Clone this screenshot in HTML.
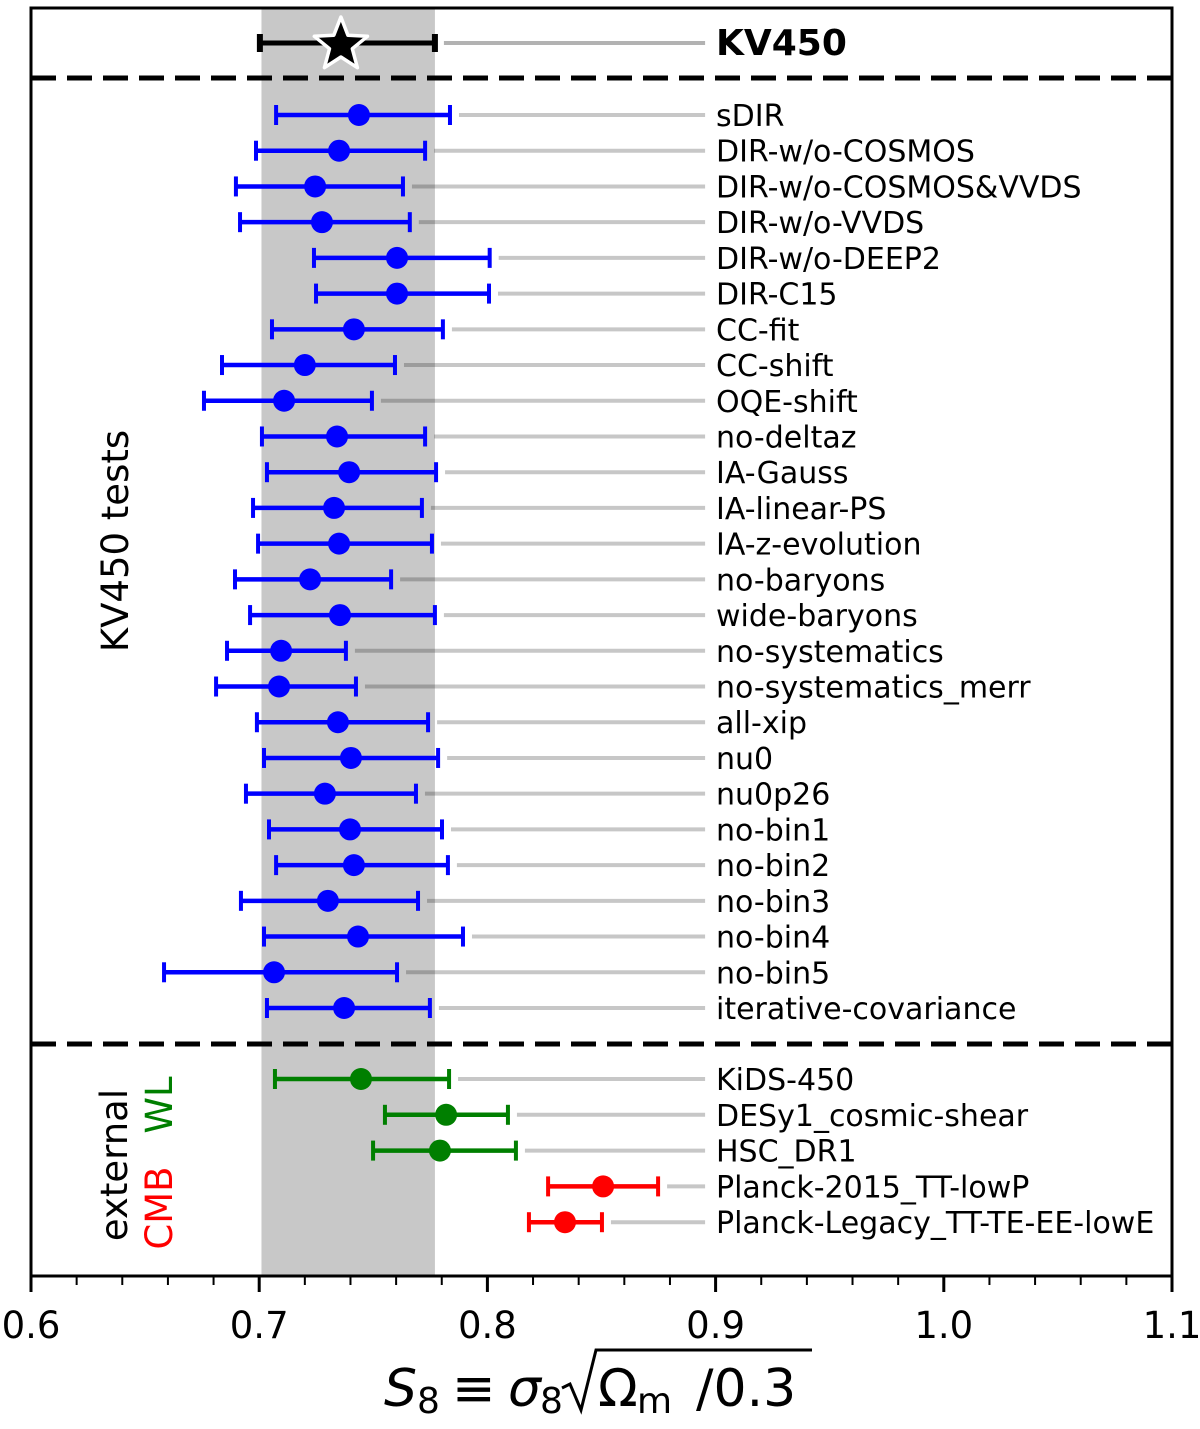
<!DOCTYPE html>
<html><head><meta charset="utf-8"><style>
html,body{margin:0;padding:0;background:#fff;}
svg{display:block;font-family:"DejaVu Sans","Liberation Sans",sans-serif;}
</style></head><body>
<svg id="chart" width="1200" height="1429" viewBox="0 0 1200 1429" xmlns="http://www.w3.org/2000/svg">
<rect x="0" y="0" width="1200" height="1429" fill="#fff"/>
<g id="plot"></g>
</svg>
<script>
const labels = ["KV450","sDIR","DIR-w/o-COSMOS","DIR-w/o-COSMOS&VVDS","DIR-w/o-VVDS","DIR-w/o-DEEP2","DIR-C15","CC-fit","CC-shift","OQE-shift","no-deltaz","IA-Gauss","IA-linear-PS","IA-z-evolution","no-baryons","wide-baryons","no-systematics","no-systematics_merr","all-xip","nu0","nu0p26","no-bin1","no-bin2","no-bin3","no-bin4","no-bin5","iterative-covariance","KiDS-450","DESy1_cosmic-shear","HSC_DR1","Planck-2015_TT-lowP","Planck-Legacy_TT-TE-EE-lowE"];
const centers = [0.7358,0.7437,0.7350,0.7245,0.7275,0.7604,0.7604,0.7415,0.7200,0.7109,0.7341,0.7394,0.7328,0.7350,0.7223,0.7354,0.7096,0.7087,0.7345,0.7402,0.7288,0.7398,0.7415,0.7301,0.7433,0.7065,0.7372,0.7446,0.7819,0.7792,0.8507,0.8340];
const lows = [0.7003,0.7074,0.6986,0.6898,0.6916,0.7240,0.7249,0.7056,0.6837,0.6758,0.7012,0.7034,0.6973,0.6995,0.6894,0.6960,0.6859,0.6811,0.6990,0.7021,0.6942,0.7043,0.7074,0.6920,0.7021,0.6583,0.7034,0.7069,0.7551,0.7499,0.8266,0.8182];
const highs = [0.7770,0.7836,0.7727,0.7630,0.7660,0.8010,0.8007,0.7805,0.7595,0.7494,0.7727,0.7775,0.7713,0.7757,0.7578,0.7770,0.7380,0.7424,0.7740,0.7784,0.7687,0.7801,0.7827,0.7696,0.7893,0.7604,0.7748,0.7832,0.8090,0.8125,0.8748,0.8502];
const groups = ["ref","test","test","test","test","test","test","test","test","test","test","test","test","test","test","test","test","test","test","test","test","test","test","test","test","test","test","wl","wl","wl","cmb","cmb"];
const majorTicks = [0.6,0.7,0.8,0.9,1.0,1.1];
const majorLabels = ["0.6","0.7","0.8","0.9","1.0","1.1"];
const bandRange = [0.701,0.777];

const NS="http://www.w3.org/2000/svg";
const g=document.getElementById('plot');
const X0=31,X1=1172,Y0=8,Y1=1276;
function xs(v){return X0+(v-0.6)/(1.1-0.6)*(X1-X0);}
function ys(i){
  if(i===0) return 43;
  if(i<=26) return 115+(i-1)*35.72;
  return 1079+(i-27)*35.8;
}
function mk(tag,attrs,parent){const e=document.createElementNS(NS,tag);for(const k in attrs)e.setAttribute(k,attrs[k]);(parent||g).appendChild(e);return e;}
const colors={ref:"#000",test:"#0000ff",wl:"#007f00",cmb:"#ff0000"};

let band=mk('rect',{x:xs(bandRange[0]),y:Y0,width:xs(bandRange[1])-xs(bandRange[0]),height:Y1-Y0,fill:"#c8c8c8"});



let d1=mk('line',{x1:X0,x2:X1,y1:78,y2:78,stroke:"#000","stroke-width":5,"stroke-dasharray":"25,11"});


let d2=mk('line',{x1:X0,x2:X1,y1:1044,y2:1044,stroke:"#000","stroke-width":5,"stroke-dasharray":"25,11"});



for(let i=0;i<labels.length;i++){
  const y=ys(i),c=colors[groups[i]];
  const grp=mk('g',{});
  
  
  const gl=mk('line',{x1:xs(highs[i])+9,x2:xs(0.8954),y1:y,y2:y,stroke:"#000","stroke-opacity":i===0?0.3:0.22,"stroke-width":4},grp);
  
  
  const eb=mk('line',{x1:xs(lows[i]),x2:xs(highs[i]),y1:y,y2:y,stroke:c,"stroke-width":i===0?5:4.5},grp);
  
  
  for(const v of [lows[i],highs[i]]){
    const cap=mk('line',{x1:xs(v),x2:xs(v),y1:y-(i===0?9:10),y2:y+(i===0?9:10),stroke:c,"stroke-width":i===0?6:4},grp);
    
    
  }
  if(i===0){
    const cx=xs(centers[i]),pts=[];
    for(let k=0;k<10;k++){const r=k%2?12:28,a=-Math.PI/2+k*Math.PI/5;pts.push((cx+r*Math.cos(a)).toFixed(1)+","+(y+2+r*Math.sin(a)).toFixed(1));}
    const st=mk('polygon',{points:pts.join(' '),fill:"#000",stroke:"#fff","stroke-width":3.5,"stroke-linejoin":"round"},grp);
    
    
  } else {
    const p=mk('circle',{cx:xs(centers[i]),cy:y,r:11,fill:c},grp);
    
    
  }
  const t=mk('text',{x:716,y:y+(i===0?12:11),"font-size":i===0?36:30,"font-weight":i===0?"bold":"normal",fill:"#000"},grp);
  t.textContent=labels[i];
  
  
}

const frame=mk('rect',{x:X0,y:Y0,width:X1-X0,height:Y1-Y0,fill:"none",stroke:"#000","stroke-width":3});



for(let k=0;k<=25;k++){
  const v=0.6+k*0.02,maj=k%5===0;
  const tk=mk('line',{x1:xs(v),x2:xs(v),y1:Y1,y2:Y1+(maj?16:9),stroke:"#000","stroke-width":maj?3:2});
  
  
}
for(let k=0;k<majorTicks.length;k++){
  const t=mk('text',{x:xs(majorTicks[k]),y:1338,"font-size":37,"text-anchor":"middle",fill:"#000"});
  t.textContent=majorLabels[k];
  
  
}
</script>
<svg style="position:absolute;left:0;top:0" width="1200" height="1429">
<g font-family="DejaVu Sans, Liberation Sans, sans-serif">
<text x="128" y="541" font-size="37" text-anchor="middle" transform="rotate(-90 128 541)">KV450 tests</text>
<text x="127" y="1165" font-size="37" text-anchor="middle" transform="rotate(-90 127 1165)">external</text>
<text x="172" y="1105" font-size="37" fill="#007f00" text-anchor="middle" transform="rotate(-90 172 1105)">WL</text>
<text x="172" y="1208" font-size="37" fill="#ff0000" text-anchor="middle" transform="rotate(-90 172 1208)">CMB</text>
<g font-size="52">
<text x="384" y="1406" font-style="italic">S</text>
<text x="417" y="1413" font-size="36">8</text>
<text x="452" y="1406">≡</text>
<text x="508" y="1406" font-style="italic">σ</text>
<text x="540" y="1413" font-size="36">8</text>
<path d="M562,1388 L570,1384 L581,1410 L596,1350 L812,1350" fill="none" stroke="#000" stroke-width="3"/>
<text x="598" y="1406">Ω</text>
<text x="637" y="1413" font-size="36">m</text>
<text x="696" y="1406">/0.3</text>
</g>
</g>
</svg>
</body></html>
